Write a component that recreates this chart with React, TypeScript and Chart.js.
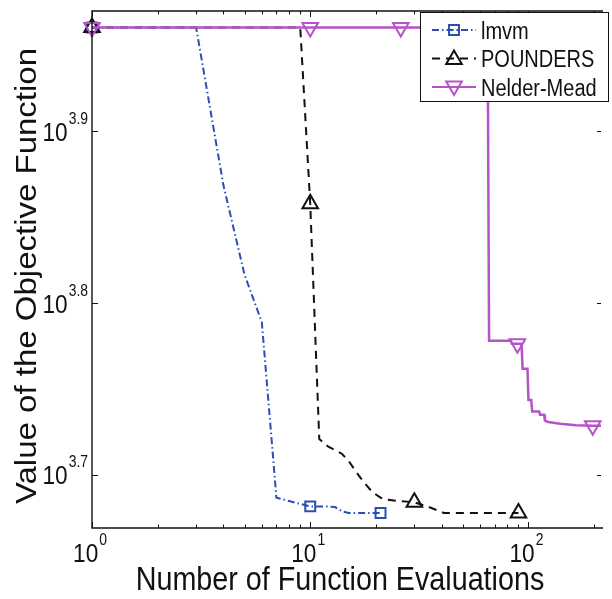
import React, { useEffect, useRef } from "react";
import { Chart, registerables } from "chart.js";

Chart.register(...registerables);

// ---- data ----
const lmvmX = [1, 3, 4, 5, 6, 7, 8, 9, 10, 12, 13, 14, 15, 21];
const lmvmY = [9130, 9130, 7391, 6554, 6150, 4861, 4839, 4820, 4804, 4804, 4800, 4772, 4762, 4762];
const lmvmMarkers = [1, 10, 21];

const poundersX = [1, 9, 10, 11, 12, 13, 14, 15, 16, 17, 18, 19, 20, 21, 22, 25, 30, 35, 41, 90];
const poundersY = [9130, 9130, 7209, 5258, 5209, 5181, 5154, 5106, 5045, 4992, 4946, 4907, 4881, 4861, 4849, 4840, 4831, 4800, 4762, 4762];
const poundersMarkers = [1, 10, 30, 90];

const nmX = [1, 10, 26, 65, 66, 83, 84, 89, 93, 94, 99, 100, 103, 104, 112, 113, 118, 119, 123, 140, 165, 197, 215];
const nmY = [9130, 9130, 9130, 9130, 5999, 5999, 5974, 5974, 5974, 5778, 5778, 5541, 5541, 5456, 5456, 5433, 5433, 5390, 5380, 5367, 5357, 5353, 5353];
const nmMarkers = [1, 10, 26, 89, 197];

const seriesNames = ["lmvm", "POUNDERS", "Nelder-Mead"];
const xTickExponents = ["0", "1", "2"];
const yTickExponents = ["3.7", "3.8", "3.9"];
const xTitle = "Number of Function Evaluations";
const yTitle = "Value of the Objective Function";

const X_MIN = 1;
const X_MAX = 215;
const Y_MIN = 4667;
const Y_MAX = 9334;

const BLUE = "#2a4fb2";
const BLACK = "#111111";
const PURPLE = "#b653c8";
const FONT = '"Liberation Sans", Arial, Helvetica, sans-serif';
const SX = 0.87; // horizontal squeeze of the reference's lettering

const DASH_LMVM = [7, 3, 1.5, 3];
const DASH_POUNDERS = [8, 6];

function drawMarker(ctx: CanvasRenderingContext2D, style: string, x: number, y: number, r: number, color: string) {
  ctx.save();
  ctx.strokeStyle = color;
  ctx.lineWidth = 2;
  ctx.setLineDash([]);
  ctx.beginPath();
  if (style === "rect") {
    const s = r * Math.SQRT1_2;
    ctx.rect(x - s, y - s, 2 * s, 2 * s);
  } else {
    const dir = style === "up" ? 1 : -1;
    ctx.moveTo(x, y - dir * r);
    ctx.lineTo(x + r * 0.866, y + dir * r * 0.5);
    ctx.lineTo(x - r * 0.866, y + dir * r * 0.5);
    ctx.closePath();
  }
  ctx.stroke();
  ctx.restore();
}

function textW(ctx: CanvasRenderingContext2D, t: string, size: number) {
  ctx.font = `${size}px ${FONT}`;
  return ctx.measureText(t).width * SX;
}

function drawText(ctx: CanvasRenderingContext2D, t: string, x: number, y: number, size: number) {
  ctx.save();
  ctx.font = `${size}px ${FONT}`;
  ctx.textAlign = "left";
  ctx.textBaseline = "alphabetic";
  ctx.fillStyle = "#111";
  ctx.translate(x, y);
  ctx.scale(SX, 1);
  ctx.fillText(t, 0, 0);
  ctx.restore();
}

const BASE = 26;
const EXP = 16;

function drawPow(ctx: CanvasRenderingContext2D, exp: string, x: number, baseY: number, align: "center" | "right") {
  const w1 = textW(ctx, "10", BASE);
  const w2 = textW(ctx, exp, EXP);
  const total = w1 + w2 + 1;
  const start = align === "center" ? x - total / 2 : x - total;
  drawText(ctx, "10", start, baseY, BASE);
  drawText(ctx, exp, start + w1 + 1, baseY - 17, EXP);
}

const framePlugin = {
  id: "matlabFrame",
  afterDraw(chart: any) {
    const ctx: CanvasRenderingContext2D = chart.ctx;
    const { left, top, right, bottom } = chart.chartArea;
    const xs = chart.scales.x;
    const ys = chart.scales.y;
    ctx.save();
    ctx.strokeStyle = "#111";
    ctx.lineWidth = 1.4;
    ctx.setLineDash([]);
    ctx.beginPath();
    ctx.moveTo(right + 2, top);
    ctx.lineTo(left, top);
    ctx.lineTo(left, bottom);
    ctx.lineTo(right + 2, bottom);
    ctx.stroke();

    // x ticks
    ctx.lineWidth = 1;
    for (let d = 0; d < 3; d++) {
      for (let m = 1; m <= 9; m++) {
        const v = m * Math.pow(10, d);
        if (v > X_MAX) continue;
        const px = Math.round(xs.getPixelForValue(v)) + 0.5;
        const len = m === 1 ? 6 : 3.5;
        ctx.beginPath();
        ctx.moveTo(px, bottom);
        ctx.lineTo(px, bottom - len);
        ctx.moveTo(px, top);
        ctx.lineTo(px, top + len);
        ctx.stroke();
      }
    }
    // y ticks
    for (const e of yTickExponents) {
      const py = Math.round(ys.getPixelForValue(Math.pow(10, parseFloat(e)))) + 0.5;
      ctx.beginPath();
      ctx.moveTo(left, py);
      ctx.lineTo(left + 6, py);
      ctx.moveTo(right, py);
      ctx.lineTo(right - 4, py);
      ctx.stroke();
    }

    // tick labels
    for (const e of xTickExponents) {
      const px = xs.getPixelForValue(Math.pow(10, parseFloat(e)));
      drawPow(ctx, e, px - 2, bottom + 34, "center");
    }
    for (const e of yTickExponents) {
      const py = ys.getPixelForValue(Math.pow(10, parseFloat(e)));
      drawPow(ctx, e, left - 4, py + 9.5, "right");
    }

    // titles
    const TITLE = 33;
    const tw = textW(ctx, xTitle, TITLE);
    drawText(ctx, xTitle, 340 - tw / 2, 590, TITLE);
    ctx.save();
    ctx.font = `${TITLE}px ${FONT}`;
    ctx.fillStyle = "#111";
    ctx.textAlign = "center";
    ctx.textBaseline = "alphabetic";
    ctx.translate(36, 276);
    ctx.scale(SX, 1);
    ctx.rotate(-Math.PI / 2);
    ctx.fillText(yTitle, 0, 0);
    ctx.restore();

    // legend
    const lx = 420.5, ly = 12.5, lw = 188, lh = 89;
    ctx.fillStyle = "#fff";
    ctx.fillRect(lx, ly, lw, lh);
    ctx.strokeStyle = "#111";
    ctx.lineWidth = 1;
    ctx.strokeRect(lx, ly, lw, lh);
    const entries = [
      { name: seriesNames[0], color: BLUE, dash: DASH_LMVM, marker: "rect", r: 7 },
      { name: seriesNames[1], color: BLACK, dash: DASH_POUNDERS, marker: "up", r: 9 },
      { name: seriesNames[2], color: PURPLE, dash: [], marker: "down", r: 9 },
    ];
    entries.forEach((en, i) => {
      const y = 30 + i * 28.5;
      ctx.save();
      ctx.strokeStyle = en.color;
      ctx.lineWidth = 2;
      ctx.setLineDash(en.dash);
      ctx.beginPath();
      ctx.moveTo(432, y);
      ctx.lineTo(476, y);
      ctx.stroke();
      ctx.restore();
      drawMarker(ctx, en.marker, 454, y + (en.marker === "up" ? 1 : en.marker === "down" ? -1 : 0), en.r, en.color);
      drawText(ctx, en.name, 481, y + 8.5, 23);
    });
    ctx.restore();
  },
};

function makeData(xs: number[], ys: number[]) {
  return xs.map((x, i) => ({ x, y: ys[i] }));
}

export default function App() {
  const ref = useRef<HTMLCanvasElement | null>(null);
  useEffect(() => {
    if (!ref.current) return;
    const chart = new Chart(ref.current, {
      type: "line",
      data: {
        datasets: [
          {
            label: seriesNames[0],
            data: makeData(lmvmX, lmvmY),
            borderColor: BLUE,
            borderWidth: 2,
            borderDash: DASH_LMVM,
            pointStyle: "rect",
            pointRadius: (c: any) => (lmvmMarkers.includes(lmvmX[c.dataIndex]) ? 7 : 0),
            pointBorderColor: BLUE,
            pointBackgroundColor: "rgba(0,0,0,0)",
            pointBorderWidth: 2,
            order: 2,
            clip: false,
          } as any,
          {
            label: seriesNames[1],
            data: makeData(poundersX, poundersY),
            borderColor: BLACK,
            borderWidth: 2,
            borderDash: DASH_POUNDERS,
            pointStyle: "triangle",
            pointRadius: (c: any) => (poundersMarkers.includes(poundersX[c.dataIndex]) ? 9 : 0),
            pointBorderColor: BLACK,
            pointBackgroundColor: "rgba(0,0,0,0)",
            pointBorderWidth: 2,
            order: 1,
            clip: false,
          } as any,
          {
            label: seriesNames[2],
            data: makeData(nmX, nmY),
            borderColor: PURPLE,
            borderWidth: 2.5,
            pointStyle: "triangle",
            pointRotation: 180,
            pointRadius: (c: any) => (nmMarkers.includes(nmX[c.dataIndex]) ? 9 : 0),
            pointBorderColor: PURPLE,
            pointBackgroundColor: "rgba(0,0,0,0)",
            pointBorderWidth: 2,
            order: 0,
            clip: false,
          } as any,
        ],
      },
      options: {
        responsive: false,
        animation: false,
        events: [],
        layout: { padding: { left: 92, top: 5, right: 0, bottom: 71 } },
        plugins: { legend: { display: false }, tooltip: { enabled: false } },
        elements: { line: { tension: 0 } },
        scales: {
          x: { type: "logarithmic", min: X_MIN, max: X_MAX, display: false },
          y: { type: "logarithmic", min: Y_MIN, max: Y_MAX, display: false },
        },
      },
      plugins: [framePlugin],
    });
    return () => chart.destroy();
  }, []);
  return (
    <div style={{ position: "fixed", left: 0, top: 0, width: 612, height: 599, background: "#fff" }}>
      <canvas ref={ref} width={612} height={599} style={{ display: "block" }} />
    </div>
  );
}
